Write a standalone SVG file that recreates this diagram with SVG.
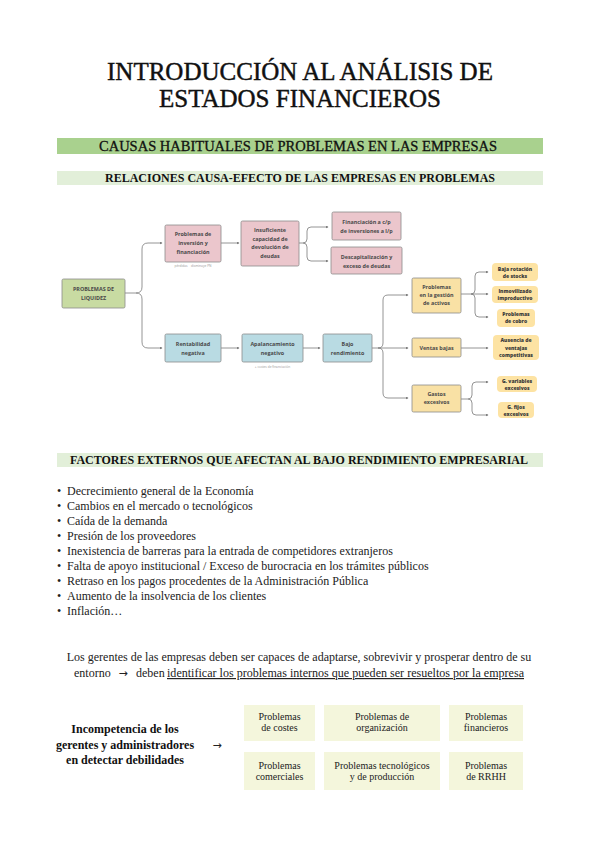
<svg xmlns="http://www.w3.org/2000/svg" width="599" height="848" viewBox="0 0 599 848">
<style>
.ser{font-family:"Liberation Serif","Times New Roman",serif;fill:#111}
.t{font-family:"Open Sans","DejaVu Sans",sans-serif;font-weight:700;font-size:5.4px;fill:#4a4a4a;text-anchor:middle}
.tp{font-family:"Open Sans","DejaVu Sans",sans-serif;font-weight:800;font-size:5px;fill:#3a3a3a;text-anchor:middle}
.ann{font-family:"Open Sans","DejaVu Sans",sans-serif;font-size:3.2px;fill:#9a9a9a;text-anchor:middle}
.nb{stroke:#8c8c8c;stroke-width:0.8}
.pink{fill:#ebc6cc}
.blue{fill:#b9dbe3}
.yel{fill:#f9e1a5}
.green{fill:#c8dba2}
.pill{fill:#fde3a3}
.con{fill:none;stroke:#7a7a7a;stroke-width:0.8}
.box{fill:#f4f6dc}
.bt{font-family:"Liberation Serif","Times New Roman",serif;font-size:10px;fill:#222;text-anchor:middle}
.li{font-family:"Liberation Serif","Times New Roman",serif;font-size:12px;fill:#222}
.arr{font-family:"DejaVu Sans",sans-serif;font-size:11px;fill:#222;text-anchor:middle}
</style>
<defs>
<marker id="ah" viewBox="0 0 6 6" refX="5" refY="3" markerWidth="3" markerHeight="3" orient="auto" markerUnits="userSpaceOnUse">
<path d="M0,0 L6,3 L0,6 z" fill="#7a7a7a"/>
</marker>
</defs>
<rect width="599" height="848" fill="#ffffff"/>

<g id="title">
<text class="ser" x="300" y="80" font-size="25" text-anchor="middle" stroke="#111" stroke-width="0.45">INTRODUCCIÓN AL ANÁLISIS DE</text>
<text class="ser" x="300" y="107" font-size="25" text-anchor="middle" stroke="#111" stroke-width="0.45">ESTADOS FINANCIEROS</text>
</g>

<g id="band1">
<rect x="57" y="138" width="486" height="16" fill="#a9d18e"/>
<text class="ser" x="298" y="151" font-size="14" text-anchor="middle" stroke="#111" stroke-width="0.3" textLength="398" lengthAdjust="spacingAndGlyphs">CAUSAS HABITUALES DE PROBLEMAS EN LAS EMPRESAS</text>
</g>
<g id="band2">
<rect x="57" y="171" width="486" height="14" fill="#e2efd9"/>
<text class="ser" x="300" y="182" font-size="12" font-weight="700" text-anchor="middle" textLength="390" lengthAdjust="spacingAndGlyphs">RELACIONES CAUSA-EFECTO DE LAS EMPRESAS EN PROBLEMAS</text>
</g>

<g id="connectors">
<path class="con" d="M125,293 H136 Q142,293 142,287 V249 Q142,243 148,243 H162" marker-end="url(#ah)"/>
<path class="con" d="M136,293 Q142,293 142,299 V342 Q142,348 148,348 H162" marker-end="url(#ah)"/>
<path class="con" d="M221,243 H239" marker-end="url(#ah)"/>
<path class="con" d="M299,243 H303 Q307,243 307,239 V231 Q307,227 311,227 H328" marker-end="url(#ah)"/>
<path class="con" d="M303,243 Q307,243 307,247 V257 Q307,261 311,261 H328" marker-end="url(#ah)"/>
<path class="con" d="M221,348 H239" marker-end="url(#ah)"/>
<path class="con" d="M303,348 H320" marker-end="url(#ah)"/>
<path class="con" d="M372,348 H408" marker-end="url(#ah)"/>
<path class="con" d="M378,348 Q383,348 383,343 V300 Q383,295 388,295 H408" marker-end="url(#ah)"/>
<path class="con" d="M378,348 Q383,348 383,353 V393 Q383,398 388,398 H408" marker-end="url(#ah)"/>
<path class="con" d="M461,294 H488" marker-end="url(#ah)"/>
<path class="con" d="M471,294 Q475,294 475,290 V276 Q475,272 479,272 H488" marker-end="url(#ah)"/>
<path class="con" d="M471,294 Q475,294 475,298 V313 Q475,317 479,317 H488" marker-end="url(#ah)"/>
<path class="con" d="M461,348 H488" marker-end="url(#ah)"/>
<path class="con" d="M461,399 H468 Q472,399 472,395 V386 Q472,382 476,382 H488" marker-end="url(#ah)"/>
<path class="con" d="M468,399 Q472,399 472,403 V411 Q472,415 476,415 H488" marker-end="url(#ah)"/>
</g>

<g id="n-liquidez">
<rect class="green nb" x="62" y="279" width="63" height="29" rx="1.5"/>
<text class="t" x="93.5" y="291">PROBLEMAS DE</text>
<text class="t" x="93.5" y="299.5">LIQUIDEZ</text>
</g>
<g id="n-inversion">
<rect class="pink nb" x="165" y="225" width="56" height="37" rx="1.5"/>
<text class="t" x="193" y="236.3">Problemas de</text>
<text class="t" x="193" y="245">inversión y</text>
<text class="t" x="193" y="253.7">financiación</text>
<text class="ann" x="193" y="267">pérdidas = disminuye PN</text>
</g>
<g id="n-insuficiente">
<rect class="pink nb" x="241" y="221" width="58" height="45" rx="1.5"/>
<text class="t" x="270" y="232">Insuficiente</text>
<text class="t" x="270" y="240.7">capacidad de</text>
<text class="t" x="270" y="249.3">devolución de</text>
<text class="t" x="270" y="258">deudas</text>
</g>
<g id="n-financiacion">
<rect class="pink nb" x="332" y="212" width="69" height="28" rx="1.5"/>
<text class="t" x="366.5" y="224">Financiación a c/p</text>
<text class="t" x="366.5" y="233">de inversiones a l/p</text>
</g>
<g id="n-descap">
<rect class="pink nb" x="331" y="247" width="71" height="27" rx="1.5"/>
<text class="t" x="366.5" y="259">Descapitalización y</text>
<text class="t" x="366.5" y="267.5">exceso de deudas</text>
</g>
<g id="n-rentabilidad">
<rect class="blue nb" x="165" y="334" width="56" height="28" rx="1.5"/>
<text class="t" x="193" y="346">Rentabilidad</text>
<text class="t" x="193" y="355">negativa</text>
</g>
<g id="n-apalancamiento">
<rect class="blue nb" x="242" y="334" width="61" height="28" rx="1.5"/>
<text class="t" x="272.5" y="346">Apalancamiento</text>
<text class="t" x="272.5" y="355">negativo</text>
<text class="ann" x="272.5" y="368">+ costes de financiación</text>
</g>
<g id="n-bajo">
<rect class="blue nb" x="323" y="334" width="49" height="28" rx="1.5"/>
<text class="t" x="347.5" y="346">Bajo</text>
<text class="t" x="347.5" y="355">rendimiento</text>
</g>
<g id="n-gestion">
<rect class="yel nb" x="412" y="278" width="49" height="35" rx="1.5"/>
<text class="t" x="436.5" y="289">Problemas</text>
<text class="t" x="436.5" y="297">en la gestión</text>
<text class="t" x="436.5" y="305">de activos</text>
</g>
<g id="n-ventas">
<rect class="yel nb" x="412" y="338" width="49" height="19" rx="1.5"/>
<text class="t" x="436.5" y="350">Ventas bajas</text>
</g>
<g id="n-gastos">
<rect class="yel nb" x="412" y="385" width="49" height="27" rx="1.5"/>
<text class="t" x="436.5" y="396">Gastos</text>
<text class="t" x="436.5" y="404">excesivos</text>
</g>
<g id="n-stocks">
<rect class="pill" x="492" y="263" width="46" height="18" rx="4"/>
<text class="tp" x="515" y="271">Baja rotación</text>
<text class="tp" x="515" y="278">de stocks</text>
</g>
<g id="n-inmovilizado">
<rect class="pill" x="492" y="286" width="46" height="17" rx="4"/>
<text class="tp" x="515" y="293">Inmovilizado</text>
<text class="tp" x="515" y="300">improductivo</text>
</g>
<g id="n-cobro">
<rect class="pill" x="497" y="309" width="38" height="18" rx="4"/>
<text class="tp" x="516" y="316">Problemas</text>
<text class="tp" x="516" y="323">de cobro</text>
</g>
<g id="n-ausencia">
<rect class="pill" x="493" y="335" width="46" height="25" rx="4"/>
<text class="tp" x="516" y="342">Ausencia de</text>
<text class="tp" x="516" y="349.5">ventajas</text>
<text class="tp" x="516" y="356.5">competitivas</text>
</g>
<g id="n-gvariables">
<rect class="pill" x="497" y="376" width="40" height="16" rx="4"/>
<text class="tp" x="517" y="383">G. variables</text>
<text class="tp" x="517" y="390">excesivos</text>
</g>
<g id="n-gfijos">
<rect class="pill" x="498" y="402" width="36" height="16" rx="4"/>
<text class="tp" x="516" y="408.5">G. fijos</text>
<text class="tp" x="516" y="415.5">excesivos</text>
</g>

<g id="band3">
<rect x="57" y="453" width="486" height="14" fill="#e2efd9"/>
<text class="ser" x="299" y="464" font-size="12" font-weight="700" text-anchor="middle" textLength="458" lengthAdjust="spacingAndGlyphs">FACTORES EXTERNOS QUE AFECTAN AL BAJO RENDIMIENTO EMPRESARIAL</text>
</g>

<g id="factores">
<text class="li" x="57" y="495">•</text><text class="li" x="67" y="495">Decrecimiento general de la Economía</text>
<text class="li" x="57" y="510">•</text><text class="li" x="67" y="510">Cambios en el mercado o tecnológicos</text>
<text class="li" x="57" y="525">•</text><text class="li" x="67" y="525">Caída de la demanda</text>
<text class="li" x="57" y="540">•</text><text class="li" x="67" y="540">Presión de los proveedores</text>
<text class="li" x="57" y="555">•</text><text class="li" x="67" y="555">Inexistencia de barreras para la entrada de competidores extranjeros</text>
<text class="li" x="57" y="570">•</text><text class="li" x="67" y="570">Falta de apoyo institucional / Exceso de burocracia en los trámites públicos</text>
<text class="li" x="57" y="585">•</text><text class="li" x="67" y="585">Retraso en los pagos procedentes de la Administración Pública</text>
<text class="li" x="57" y="600">•</text><text class="li" x="67" y="600">Aumento de la insolvencia de los clientes</text>
<text class="li" x="57" y="615">•</text><text class="li" x="67" y="615">Inflación…</text>
</g>

<g id="parrafo">
<text class="li" x="299" y="661" text-anchor="middle">Los gerentes de las empresas deben ser capaces de adaptarse, sobrevivir y prosperar dentro de su</text>
<text class="li" x="74" y="677">entorno</text>
<text class="arr" x="123" y="677">→</text>
<text class="li" x="136" y="677">deben</text>
<text class="li" x="167" y="677" text-decoration="underline" textLength="357" lengthAdjust="spacingAndGlyphs">identificar los problemas internos que pueden ser resueltos por la empresa</text>
</g>

<g id="incompetencia">
<text class="ser" x="125" y="733" font-size="12" font-weight="700" text-anchor="middle">Incompetencia de los</text>
<text class="ser" x="125" y="749" font-size="12" font-weight="700" text-anchor="middle">gerentes y administradores</text>
<text class="ser" x="125" y="764" font-size="12" font-weight="700" text-anchor="middle">en detectar debilidades</text>
<text class="arr" x="217" y="749">→</text>
</g>

<g id="b-costes"><rect class="box" x="244" y="705" width="71" height="36"/><text class="bt" x="279.5" y="720">Problemas</text><text class="bt" x="279.5" y="731">de costes</text></g>
<g id="b-organizacion"><rect class="box" x="324" y="705" width="116" height="36"/><text class="bt" x="382" y="720">Problemas de</text><text class="bt" x="382" y="731">organización</text></g>
<g id="b-financieros"><rect class="box" x="449" y="705" width="74" height="36"/><text class="bt" x="486" y="720">Problemas</text><text class="bt" x="486" y="731">financieros</text></g>
<g id="b-comerciales"><rect class="box" x="244" y="752" width="71" height="38"/><text class="bt" x="279.5" y="769">Problemas</text><text class="bt" x="279.5" y="780">comerciales</text></g>
<g id="b-tecnologicos"><rect class="box" x="324" y="752" width="116" height="38"/><text class="bt" x="382" y="769">Problemas tecnológicos</text><text class="bt" x="382" y="780">y de producción</text></g>
<g id="b-rrhh"><rect class="box" x="449" y="752" width="74" height="38"/><text class="bt" x="486" y="769">Problemas</text><text class="bt" x="486" y="780">de RRHH</text></g>
</svg>
